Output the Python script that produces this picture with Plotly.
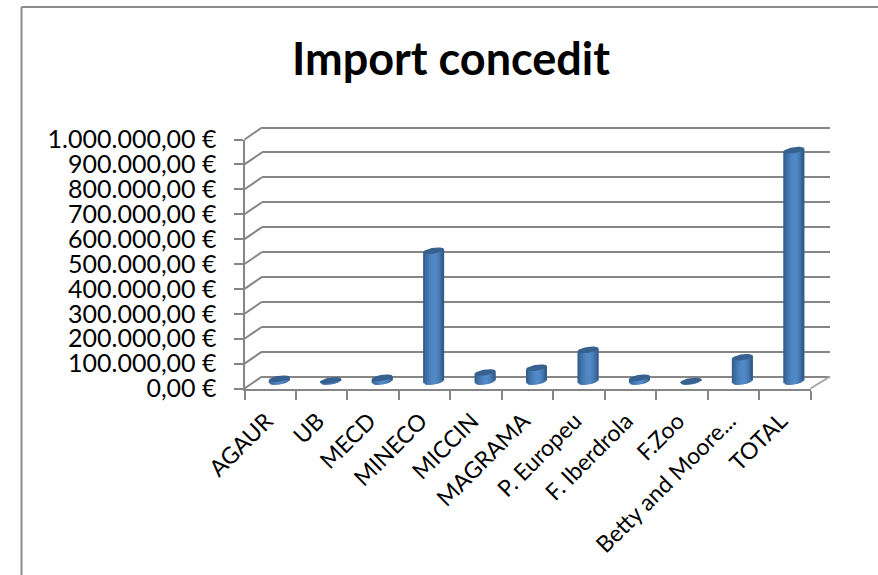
import math
import plotly.graph_objects as go

categories = ["AGAUR", "UB", "MECD", "MINECO", "MICCIN", "MAGRAMA", "P. Europeu",
              "F. Iberdrola", "F.Zoo", "Betty and Moore...", "TOTAL"]
values = [11000, 4000, 15000, 525000, 36000, 55000, 127000, 15000, 2000, 97000, 929000]
y_ticks = [0, 100000, 200000, 300000, 400000, 500000, 600000, 700000, 800000, 900000, 1000000]
y_labels = ["0,00 €", "100.000,00 €", "200.000,00 €", "300.000,00 €", "400.000,00 €", "500.000,00 €",
            "600.000,00 €", "700.000,00 €", "800.000,00 €", "900.000,00 €", "1.000.000,00 €"]
title_text = "Import concedit"

W, H = 878, 575
FONT = "Lato"
GRAY = "#868686"
X0, X1 = 244.5, 810.5          # front axis, pixels
Y0, Y1 = 388.5, 139.5
DX, DY = 17.5, -12             # depth of the back wall
BX, BY = 9, -7                 # depth of the cylinder centres
PXV = (Y0 - Y1) / 1000000      # pixels per unit of value
PXC = (X1 - X0) / len(categories)

def fx(p): return p / W
def fy(p): return 1 - p / H

fig = go.Figure()

fig.add_trace(go.Scatter(x=[0, 1], y=[0, 0], mode="markers", marker=dict(opacity=0),
                         hoverinfo="skip", showlegend=False, xaxis="x", yaxis="y"))
fig.add_trace(go.Scatter(x=categories, y=values, mode="markers", marker=dict(opacity=0),
                         hoverinfo="skip", showlegend=False, xaxis="x2", yaxis="y2"))

HALF = 10.5 / PXC
CAP_B = 3.0 / PXV
TILT = 1.5 / PXV
band_cols = ["#34608f", "#3d6c9f", "#4475ac", "#4a7eb9", "#4f85c2", "#5189c8", "#5188c6",
             "#4d83c0", "#4679b2", "#3e6da2", "#335d8c"]
n = len(band_cols)
idx = list(range(len(categories)))
for i, col in enumerate(band_cols):
    u0 = -1 + 2 * i / n
    u1 = -1 + 2 * (i + 1) / n
    ue = min(1.0, u1 + 2 / n)    # overlap the next band so no seams show
    um = (u0 + u1) / 2
    fig.add_trace(go.Bar(x=idx, y=values, base=[TILT * um] * len(idx),
                         width=[(ue - u0) * HALF] * len(idx),
                         offset=[u0 * HALF] * len(idx),
                         marker=dict(color=col, line=dict(width=0)),
                         hoverinfo="skip", showlegend=False, xaxis="x3", yaxis="y3"))
    xs, ys = [], []
    for c in idx:
        for u in (u0, ue):
            xs.append(c + u * HALF)
            ys.append(TILT * um)
        for u in (ue, u0):
            xs.append(c + u * HALF)
            ys.append(TILT * u - CAP_B * math.sqrt(max(0, 1 - u * u)))
        xs.append(None)
        ys.append(None)
    fig.add_trace(go.Scatter(x=xs, y=ys, mode="lines", fill="toself", fillcolor=col,
                             line=dict(width=0, color=col), hoverinfo="skip", showlegend=False,
                             xaxis="x3", yaxis="y3"))
xs, ys = [], []
for c, v in zip(idx, values):
    for k in range(41):
        t = 2 * math.pi * k / 40
        xs.append(c + HALF * math.cos(t))
        ys.append(v + TILT * math.cos(t) + CAP_B * math.sin(t))
    xs.append(None)
    ys.append(None)
fig.add_trace(go.Scatter(x=xs, y=ys, mode="lines", fill="toself", fillcolor="#376290",
                         line=dict(width=0, color="#376290"), hoverinfo="skip", showlegend=False,
                         xaxis="x3", yaxis="y3"))

shapes = []
for t in y_ticks:
    py = Y0 - t * PXV
    shapes.append(dict(type="line", xref="paper", yref="paper", x0=fx(X0), x1=fx(X0 + DX),
                       y0=fy(py), y1=fy(py + DY), line=dict(color=GRAY, width=2)))
shapes.append(dict(type="line", xref="paper", yref="paper", x0=fx(X1), x1=fx(X1 + DX + 2),
                   y0=fy(Y0), y1=fy(Y0 + DY), line=dict(color="#a6a6a6", width=2)))
shapes.append(dict(type="line", xref="paper", yref="paper", x0=fx(21.5), x1=fx(21.5),
                   y0=fy(7), y1=0, line=dict(color="#8c8c8c", width=2)))
shapes.append(dict(type="line", xref="paper", yref="paper", x0=fx(21.5), x1=1,
                   y0=fy(7), y1=fy(7), line=dict(color="#8c8c8c", width=2)))

b3_bottom, b3_top = 400.0, 120.0
bar_zero = Y0 + BY
y3_range = [(bar_zero - b3_bottom) / PXV, (bar_zero - b3_top) / PXV]
E = 3.0   # the wall axis runs a little past its first and last gridline so both are drawn

fig.update_layout(
    width=W, height=H, margin=dict(l=0, r=0, t=0, b=0),
    paper_bgcolor="white", plot_bgcolor="rgba(0,0,0,0)", barmode="overlay", showlegend=False,
    font=dict(family=FONT, color="black"),
    title=dict(text=f"<b>{title_text}</b>", x=451 / W, xanchor="center", y=fy(59), yanchor="middle",
               font=dict(family=FONT, size=45, color="black")),
    shapes=shapes,
    xaxis=dict(domain=[fx(X0 + DX), fx(X1 + DX + 2)], range=[0, 1], visible=False, anchor="y", automargin=False),
    yaxis=dict(domain=[fy(Y0 + DY + E), fy(Y1 + DY - E)], range=[-E / PXV, 1000000 + E / PXV], anchor="x",
               tickvals=y_ticks, showgrid=True, gridcolor=GRAY, gridwidth=2, showticklabels=False, ticks="",
               zeroline=False, showline=False, automargin=False),
    xaxis2=dict(domain=[fx(X0), fx(X1)], anchor="y2", type="category", categoryorder="array",
                categoryarray=categories, range=[-0.5, len(categories) - 0.5], tickson="boundaries",
                ticks="outside", ticklen=9, tickwidth=2, tickcolor=GRAY, showline=True, linecolor=GRAY,
                linewidth=2, showgrid=False, tickangle=-45, automargin=False,
                tickfont=dict(family=FONT, size=23, color="black"), ticklabelstandoff=8, ticklabelshift=-4),
    yaxis2=dict(domain=[fy(Y0), fy(Y1)], anchor="x2", range=[0, 1000000], tickvals=y_ticks, ticktext=y_labels,
                ticks="outside", ticklen=9, tickwidth=2, tickcolor=GRAY, showline=True, linecolor=GRAY,
                linewidth=2, showgrid=False, zeroline=False, automargin=False,
                tickfont=dict(family=FONT, size=25, color="black"), ticklabelstandoff=12),
    xaxis3=dict(domain=[fx(X0 + BX), fx(X1 + BX)], anchor="y3", range=[-0.5, len(categories) - 0.5],
                visible=False, automargin=False),
    yaxis3=dict(domain=[fy(b3_bottom), fy(b3_top)], anchor="x3", range=y3_range, visible=False, automargin=False),
)
fig.write_html("out.html", config=dict(displayModeBar=False),
               post_script="document.body.style.margin='0';")
